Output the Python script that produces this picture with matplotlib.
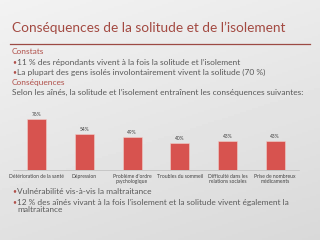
import matplotlib.pyplot as plt
import numpy as np

# chart data
categories = [
    "Détérioration de la santé",
    "Dépression",
    "Problème d'ordre\npsychologique",
    "Troubles du sommeil",
    "Difficulté dans les\nrelations sociales",
    "Prise de nombreux\nmédicaments",
]
values = [76, 54, 49, 40, 43, 43]
value_labels = ["76%", "54%", "49%", "40%", "43%", "43%"]

title = "Conséquences de la solitude et de l’isolement"
# (kind, text, y in px)
top_lines = [
    ("head", "Constats", 52),
    ("bullet", "11 % des répondants vivent à la fois la solitude et l’isolement", 62),
    ("bullet", "La plupart des gens isolés involontairement vivent la solitude (70 %)", 72),
    ("head", "Conséquences", 82),
    ("plain", "Selon les aînés, la solitude et l’isolement entraînent les conséquences suivantes:", 92),
]
bottom_lines = [
    ("bullet", "Vulnérabilité vis-à-vis la maltraitance", 191),
    ("bullet", "12 % des aînés vivant à la fois l’isolement et la solitude vivent également la", 202),
    ("cont", "maltraitance", 210),
]

RED = "#b0504a"
TEXT = "#595959"
BAR = "#d7534f"
plt.rcParams["font.family"] = ["Lato", "DejaVu Sans"]

W, H = 320, 240
fig = plt.figure(figsize=(3.2, 2.4), dpi=100)
renderer = fig.canvas.get_renderer()


def fit_size(s, width, size=10):
    # font size at which s spans width pixels
    t = fig.text(0, 0, s, fontsize=size)
    w = t.get_window_extent(renderer).width
    t.remove()
    return size * width / w


# background: light gray gradient, whiter top-left
bg = fig.add_axes([0, 0, 1, 1])
yy, xx = np.mgrid[0:1:120j, 0:1:160j]
shade = 0.95 - 0.07 * yy - 0.03 * xx
bg.imshow(shade, cmap="gray", vmin=0, vmax=1, extent=[0, W, H, 0], aspect="auto")
bg.set_xlim(0, W)
bg.set_ylim(H, 0)
bg.axis("off")

bg.text(12, 28, title, color="#a34a42", fontsize=fit_size(title, 273), va="center")
bg.plot([10, 310], [44, 44], color="#9c4a44", lw=0.9)

top_size = fit_size(top_lines[-1][1], 294)
bottom_size = fit_size(bottom_lines[1][1], 271)

for lines, size in [(top_lines, top_size), (bottom_lines, bottom_size)]:
    for kind, s, y in lines:
        if kind == "head":
            bg.text(12, y, s, color=RED, fontsize=size, va="center")
        elif kind == "plain":
            bg.text(12, y, s, color=TEXT, fontsize=size, va="center")
        else:
            if kind == "bullet":
                bg.text(12, y, "•", color=RED, fontsize=size * 0.8, va="center")
            bg.text(17, y, s, color=TEXT, fontsize=size, va="center")

# bar chart
ax = fig.add_axes([13 / W, 70 / H, 286 / W, 67 / H])
ax.patch.set_alpha(0)
x = np.arange(len(categories))
bars = ax.bar(x, values, width=0.4, color=BAR, edgecolor="#f0d0cc", linewidth=0.4)
for b, lab in zip(bars, value_labels):
    ax.text(b.get_x() + b.get_width() / 2, b.get_height() + 3, lab,
            ha="center", va="bottom", fontsize=3.5, color="#404040")
ax.set_xlim(-0.5, len(categories) - 0.5)
ax.set_ylim(0, 100)
ax.set_xticks(x)
ax.set_xticklabels(categories, fontsize=3.6, color="#404040", linespacing=1.0)
ax.tick_params(axis="x", length=0, pad=3)
ax.set_yticks([])
for side in ["top", "left", "right"]:
    ax.spines[side].set_visible(False)
ax.spines["bottom"].set_color("#bbbbbb")
ax.spines["bottom"].set_linewidth(0.5)

fig.savefig("out.png", dpi=100)
